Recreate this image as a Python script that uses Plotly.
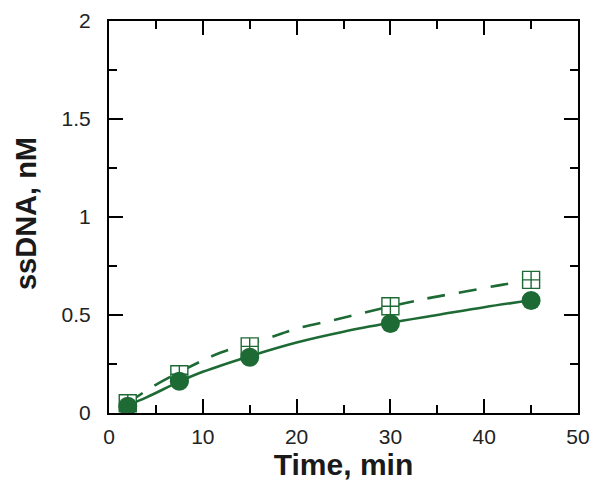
import plotly.graph_objects as go

# Measured data points
time_pts = [2, 7.5, 15, 30, 45]
ssdna_circles = [0.034, 0.162, 0.284, 0.457, 0.574]
ssdna_squares = [0.05, 0.198, 0.34, 0.545, 0.679]

# Fitted curves
fit_solid_x = [2, 4, 7.5, 10, 15, 20, 25, 30, 35, 40, 45]
fit_solid_y = [0.04, 0.08, 0.16, 0.21, 0.29, 0.36, 0.415, 0.46, 0.50, 0.54, 0.575]
fit_dash_x = [2, 4.75, 9, 12, 16.5, 20, 24, 27.5, 31.5, 34.5, 38, 42, 45]
fit_dash_y = [0.05, 0.137, 0.245, 0.31, 0.375, 0.43, 0.475, 0.515, 0.56, 0.59, 0.62, 0.655, 0.675]

x_ticks = [0, 10, 20, 30, 40, 50]
y_ticks = [0, 0.5, 1, 1.5, 2]

green = "#1d6a35"
font_family = "Liberation Sans, Arial, sans-serif"

fig = go.Figure()
fig.add_trace(go.Scatter(x=fit_solid_x, y=fit_solid_y, mode="lines",
                         line=dict(color=green, width=2.6, shape="spline"),
                         showlegend=False, hoverinfo="skip"))
fig.add_trace(go.Scatter(x=fit_dash_x, y=fit_dash_y, mode="lines",
                         line=dict(color=green, width=2.6, dash="18px,14px", shape="spline"),
                         showlegend=False, hoverinfo="skip"))
fig.add_trace(go.Scatter(x=time_pts, y=ssdna_squares, mode="markers",
                         marker=dict(symbol="square-cross", size=17, color="white",
                                     line=dict(color=green, width=1.4)),
                         showlegend=False))
fig.add_trace(go.Scatter(x=time_pts, y=ssdna_circles, mode="markers",
                         marker=dict(symbol="circle", size=19, color=green,
                                     line=dict(color=green, width=0)),
                         showlegend=False))

axis_common = dict(
    showline=True, linecolor="black", linewidth=2.2, mirror="ticks",
    ticks="inside", ticklen=14, tickwidth=2, tickcolor="black",
    showgrid=False, zeroline=False, automargin=False,
    tickfont=dict(family=font_family, size=21, color="#222"),
)

fig.update_xaxes(range=[0, 50], tickvals=x_ticks, ticktext=[str(v) for v in x_ticks],
                 minor=dict(dtick=5, tick0=0, ticks="inside", ticklen=8, tickwidth=2, tickcolor="black"),
                 ticklabelstandoff=4,
                 title=dict(text="<b>Time, min</b>", font=dict(family=font_family, size=30, color="#1a1a1a"),
                            standoff=2),
                 **axis_common)
fig.update_yaxes(range=[0, 2], tickvals=y_ticks, ticktext=["0", "0.5", "1", "1.5", "2"],
                 minor=dict(dtick=0.25, tick0=0, ticks="inside", ticklen=8, tickwidth=2, tickcolor="black"),
                 ticklabelstandoff=12,
                 **axis_common)

fig.add_annotation(text="<b>ssDNA, nM</b>", xref="paper", yref="paper",
                   x=-0.177, y=0.51, xanchor="center", yanchor="middle",
                   textangle=-90, showarrow=False, borderpad=0,
                   font=dict(family=font_family, size=29, color="#1a1a1a"))

# page has an 8px body margin, so the figure is sized and offset to compensate
fig.update_layout(width=593, height=483,
                  margin=dict(l=101, r=23, t=13, b=78),
                  paper_bgcolor="white", plot_bgcolor="white")

fig.write_html("out.html")
